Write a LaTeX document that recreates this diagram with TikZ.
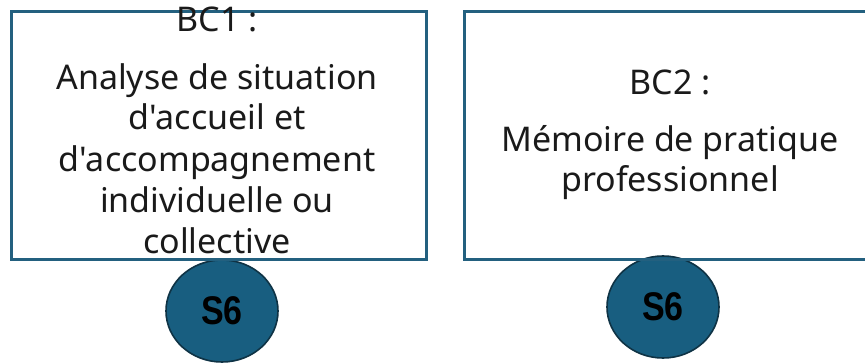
\documentclass[tikz,border=0pt]{standalone}
\usepackage{fontspec}
\setmainfont{Noto Sans}[Ligatures=TeXOff]
\newfontfamily\semfont{Liberation Sans Bold}[FakeStretch=0.85]
\usetikzlibrary{shapes.geometric}
\definecolor{boxblue}{HTML}{23607F}
\definecolor{circfill}{HTML}{185E80}
\definecolor{circedge}{HTML}{0F3345}
\definecolor{txtblack}{HTML}{1A1A1A}
\begin{document}
\begin{tikzpicture}[x=1pt,y=-1pt,
  bcbox/.style={draw=boxblue, line width=3pt, inner sep=0pt, anchor=north west},
  semcircle/.style={ellipse, draw=circedge, line width=1.6pt, fill=circfill,
    minimum width=112pt, minimum height=102pt, inner sep=0pt,
    font=\semfont\fontsize{40}{40}\selectfont, text=black},
  txt/.style={anchor=base, inner sep=0pt, text=txtblack, font=\fontsize{34}{40}\selectfont}]
\useasboundingbox (0,0) rectangle (865,363);
% circles
\node[semcircle] (s1) at (222,311) {S6};
\node[semcircle] (s2) at (663,307) {S6};
% boxes
\node[bcbox, minimum width=415pt, minimum height=248pt] (box1) at (10,10) {};
\node[bcbox, minimum width=414pt, minimum height=248pt] (box2) at (463,10) {};
% left box text
\node[txt] (t1a) at (217,32) {BC1 :};
\node[txt] (t1b) at (217,90) {Analyse de situation};
\node[txt] (t1c) at (217,130) {d'accueil et};
\node[txt] (t1d) at (217,172) {d'accompagnement};
\node[txt] (t1e) at (217,213) {individuelle ou};
\node[txt] (t1f) at (217,254) {collective};
% right box text
\node[txt] (t2a) at (670,95) {BC2 :};
\node[txt] (t2b) at (670,152) {Mémoire de pratique};
\node[txt] (t2c) at (670,192) {professionnel};
\end{tikzpicture}
\end{document}
